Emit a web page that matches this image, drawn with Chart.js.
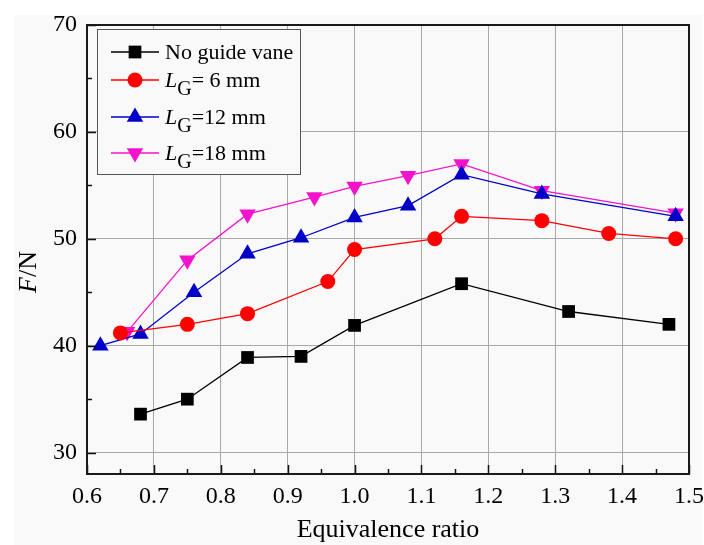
<!DOCTYPE html>
<html>
<head>
<meta charset="utf-8">
<script src="https://cdn.jsdelivr.net/npm/chart.js@4/dist/chart.umd.min.js"></script>
<style>
  body { margin: 0; background: #fff; }
  canvas { display: block; }
</style>
</head>
<body>
<canvas id="forceChart" width="704" height="545"></canvas>
<script>
// data
const xNoVane = [0.68, 0.75, 0.84, 0.92, 1.00, 1.16, 1.32, 1.47];
const fNoVane = [33.6, 35.0, 38.9, 39.0, 41.9, 45.8, 43.2, 42.0];

const xLg6 = [0.65, 0.75, 0.84, 0.96, 1.00, 1.12, 1.16, 1.28, 1.38, 1.48];
const fLg6 = [41.2, 42.0, 43.0, 46.0, 49.0, 50.0, 52.1, 51.7, 50.5, 50.0];

const xLg12 = [0.62, 0.68, 0.76, 0.84, 0.92, 1.00, 1.08, 1.16, 1.28, 1.48];
const fLg12 = [40.0, 41.1, 45.0, 48.6, 50.1, 52.0, 53.1, 56.0, 54.2, 52.1];

const xLg18 = [0.66, 0.75, 0.84, 0.94, 1.00, 1.08, 1.16, 1.28, 1.48];
const fLg18 = [41.3, 48.0, 52.3, 53.9, 54.9, 55.9, 57.0, 54.5, 52.4];

const seriesNames = ['No guide vane', 'L_G= 6 mm', 'L_G=12 mm', 'L_G=18 mm'];
const xTicks = [0.6, 0.7, 0.8, 0.9, 1.0, 1.1, 1.2, 1.3, 1.4, 1.5];
const yTicks = [30, 40, 50, 60, 70];
const xTitle = 'Equivalence ratio';

const serif = '"Liberation Serif", "Times New Roman", serif';
const bg = '#f9f9f9';

function pts(xs, ys) {
  return xs.map((x, i) => ({ x: x, y: ys[i] }));
}

function series(label, xs, ys, color, style, rot, r) {
  return {
    label: label,
    data: pts(xs, ys),
    borderColor: color,
    backgroundColor: color,
    borderWidth: 1.3,
    pointStyle: style,
    pointRotation: rot,
    pointRadius: r,
    pointHoverRadius: r,
    pointBorderWidth: 0,
    tension: 0
  };
}

// background, frame, inward ticks, axis titles and legend
const decor = {
  id: 'decor',
  beforeDraw(chart) {
    const ctx = chart.ctx;
    ctx.save();
    ctx.fillStyle = '#fff';
    ctx.fillRect(0, 0, chart.width, chart.height);
    ctx.fillStyle = bg;
    ctx.fillRect(14, 15, 688, 530);
    ctx.restore();
  },
  afterDatasetsDraw(chart) {
    const ctx = chart.ctx;
    const a = chart.chartArea;
    const xs = chart.scales.x, ys = chart.scales.y;
    ctx.save();

    // ticks (inward), major and minor
    ctx.strokeStyle = '#111';
    ctx.lineWidth = 1.5;
    ctx.beginPath();
    for (let i = 0; i < xTicks.length; i++) {
      const px = Math.round(xs.getPixelForValue(xTicks[i])) + 0.5;
      ctx.moveTo(px, a.bottom); ctx.lineTo(px, a.bottom - 9);
      if (i < xTicks.length - 1) {
        const pm = Math.round(xs.getPixelForValue((xTicks[i] + xTicks[i + 1]) / 2)) + 0.5;
        ctx.moveTo(pm, a.bottom); ctx.lineTo(pm, a.bottom - 5);
      }
    }
    for (let i = 0; i < yTicks.length; i++) {
      const py = Math.round(ys.getPixelForValue(yTicks[i])) + 0.5;
      ctx.moveTo(a.left, py); ctx.lineTo(a.left + 9, py);
      if (i < yTicks.length - 1) {
        const pm = Math.round(ys.getPixelForValue((yTicks[i] + yTicks[i + 1]) / 2)) + 0.5;
        ctx.moveTo(a.left, pm); ctx.lineTo(a.left + 5, pm);
      }
    }
    ctx.stroke();

    // frame
    ctx.strokeStyle = '#1a1a1a';
    ctx.lineWidth = 2;
    ctx.strokeRect(a.left, a.top, a.right - a.left, a.bottom - a.top);

    // axis titles
    ctx.fillStyle = '#000';
    ctx.font = '26px ' + serif;
    ctx.textAlign = 'center';
    ctx.textBaseline = 'alphabetic';
    ctx.fillText(xTitle, (a.left + a.right) / 2, 537);

    ctx.save();
    ctx.translate(36, 272);
    ctx.rotate(-Math.PI / 2);
    ctx.font = 'italic 26px ' + serif;
    const wF = ctx.measureText('F').width;
    ctx.font = '26px ' + serif;
    const wN = ctx.measureText('/N').width;
    const x0 = -(wF + wN) / 2;
    ctx.textAlign = 'left';
    ctx.font = 'italic 26px ' + serif;
    ctx.fillText('F', x0, 0);
    ctx.font = '26px ' + serif;
    ctx.fillText('/N', x0 + wF, 0);
    ctx.restore();

    // legend box
    ctx.fillStyle = bg;
    ctx.fillRect(97.5, 29.5, 203, 145);
    ctx.strokeStyle = '#555';
    ctx.lineWidth = 1;
    ctx.strokeRect(97.5, 29.5, 203, 145);

    const rows = [52, 80, 117, 153];
    chart.data.datasets.forEach((ds, i) => {
      const y = rows[i];
      ctx.strokeStyle = ds.borderColor;
      ctx.lineWidth = ds.borderWidth;
      ctx.beginPath();
      ctx.moveTo(111, y); ctx.lineTo(159, y);
      ctx.stroke();
      ctx.fillStyle = ds.backgroundColor;
      Chart.helpers.drawPoint(ctx, {
        pointStyle: ds.pointStyle,
        rotation: ds.pointRotation,
        radius: ds.pointRadius,
        borderWidth: 0
      }, 135, y);

      ctx.fillStyle = '#000';
      ctx.textAlign = 'left';
      ctx.textBaseline = 'alphabetic';
      const name = seriesNames[i];
      let tx = 165;
      const base = y + 7;
      if (name.startsWith('L_G')) {
        ctx.font = 'italic 22px ' + serif;
        ctx.fillText('L', tx, base);
        tx += ctx.measureText('L').width;
        ctx.font = '20px ' + serif;
        ctx.fillText('G', tx, base + 8);
        tx += ctx.measureText('G').width;
        ctx.font = '22px ' + serif;
        ctx.fillText(name.slice(3), tx, base);
      } else {
        ctx.font = '22px ' + serif;
        ctx.fillText(name, tx, base);
      }
    });
    ctx.restore();
  }
};

const ctx1 = document.getElementById('forceChart');

const chart1 = new Chart(ctx1, {
  type: 'line',
  data: {
    datasets: [
      series(seriesNames[0], xNoVane, fNoVane, '#000000', 'rect', 0, 9),
      series(seriesNames[1], xLg6, fLg6, '#ff0000', 'circle', 0, 7.5),
      series(seriesNames[2], xLg12, fLg12, '#0000c8', 'triangle', 0, 9.5),
      series(seriesNames[3], xLg18, fLg18, '#f512cc', 'triangle', 180, 9.5)
    ]
  },
  options: {
    responsive: false,
    animation: false,
    devicePixelRatio: 1,
    layout: { padding: { left: 0, top: 25, right: 15, bottom: 0 } },
    plugins: {
      legend: { display: false },
      tooltip: { enabled: false }
    },
    scales: {
      x: {
        type: 'linear',
        min: 0.6,
        max: 1.5,
        afterBuildTicks: s => { s.ticks = xTicks.map(v => ({ value: v })); },
        afterFit: s => { s.height = 71; s.paddingLeft = 0; s.paddingRight = 0; },
        ticks: {
          color: '#000',
          padding: 8,
          maxRotation: 0,
          autoSkip: false,
          font: { family: serif, size: 24 },
          callback: v => Number(v).toFixed(1)
        },
        grid: { color: '#a8a8a8', lineWidth: 1, drawTicks: false },
        border: { display: false }
      },
      y: {
        min: 28,
        max: 70,
        afterBuildTicks: s => { s.ticks = yTicks.map(v => ({ value: v })); },
        afterFit: s => { s.width = 87; },
        ticks: {
          color: '#000',
          padding: 10,
          font: { family: serif, size: 24 }
        },
        grid: { color: '#a8a8a8', lineWidth: 1, drawTicks: false },
        border: { display: false }
      }
    }
  },
  plugins: [decor]
});
</script>
</body>
</html>
